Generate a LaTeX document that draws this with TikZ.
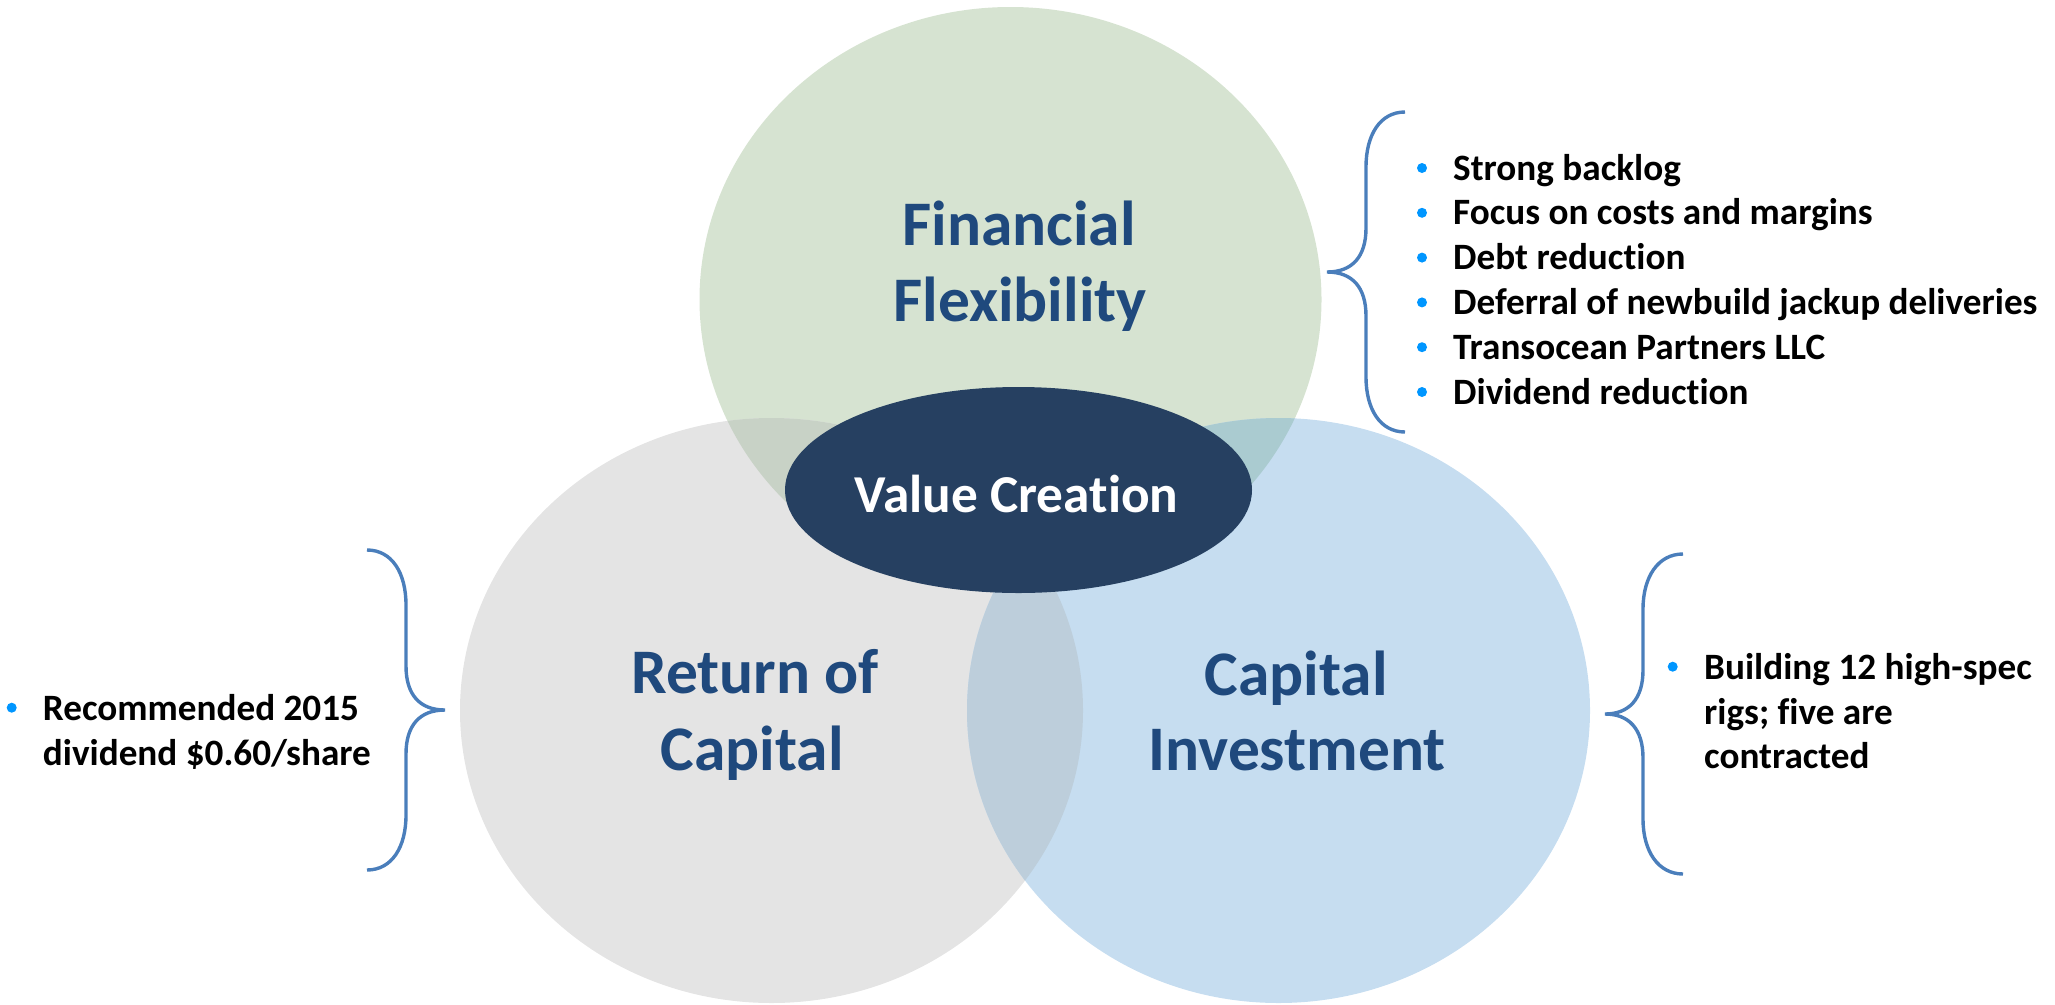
\documentclass[tikz,border=0pt]{standalone}
\usepackage{fontspec}
\setmainfont{Carlito}[RawFeature={-liga}]
\definecolor{cgreen}{HTML}{D6E3D1}
\definecolor{cgray}{HTML}{E4E4E4}
\definecolor{cblue}{HTML}{C6DDF0}
\definecolor{cgg}{HTML}{C8D2C6}
\definecolor{cgb}{HTML}{AACBD0}
\definecolor{cyb}{HTML}{BDCEDB}
\definecolor{cdark}{HTML}{264061}
\definecolor{ctitle}{HTML}{1F497D}
\definecolor{cbrace}{HTML}{4A7EBB}
\definecolor{cbullet}{HTML}{0096FF}
\tikzset{
  title/.style={font=\fontsize{63.5}{76}\selectfont\bfseries, text=ctitle, inner sep=0pt, anchor=base},
  vc/.style={font=\fontsize{53.3}{64}\selectfont\bfseries, text=white, inner sep=0pt, anchor=base},
  item/.style={font=\fontsize{37.2}{44}\selectfont\bfseries, text=black, inner sep=0pt, anchor=base west},
  dot/.style={circle, fill=cbullet, inner sep=0pt, minimum size=10pt},
  brace/.style={draw=cbrace, line width=3.4pt}
}
\begin{document}
\begin{tikzpicture}[x=1pt,y=-1pt]
\useasboundingbox (0,0) rectangle (2055,1004);
% Venn ellipses
\fill[cgreen] (1010.5,299.5) ellipse [x radius=311, y radius=292.5];
\fill[cgray] (771.5,710.5) ellipse [x radius=311.5, y radius=292.5];
\fill[cblue] (1278.5,710.5) ellipse [x radius=311.5, y radius=292.5];
\begin{scope}
  \clip (1010.5,299.5) ellipse [x radius=311, y radius=292.5];
  \fill[cgg] (771.5,710.5) ellipse [x radius=311.5, y radius=292.5];
  \fill[cgb] (1278.5,710.5) ellipse [x radius=311.5, y radius=292.5];
\end{scope}
\begin{scope}
  \clip (771.5,710.5) ellipse [x radius=311.5, y radius=292.5];
  \fill[cyb] (1278.5,710.5) ellipse [x radius=311.5, y radius=292.5];
\end{scope}
% centre ellipse
\fill[cdark] (1018.5,490) ellipse [x radius=233.5, y radius=103];
\node[vc] (vc) at (1016.7,512.7) {Value Creation};
% titles
\node[title] (ff1) at (1019,245) {Financial};
\node[title] (ff2) at (1020,321) {Flexibility};
\node[title] (rc1) at (755,693) {Return of};
\node[title] (rc2) at (752,770) {Capital};
\node[title] (ci1) at (1296,695) {Capital};
\node[title] (ci2) at (1297,770.7) {Investment};
% right top brace
\draw[brace] (1405,112) .. controls (1380,112) and (1366,135) .. (1366,167) -- (1366,228)
  .. controls (1366,257) and (1352,272) .. (1327,272)
  .. controls (1352,272) and (1366,287) .. (1366,316) -- (1366,377)
  .. controls (1366,409) and (1380,432) .. (1405,432);
% left brace
\draw[brace] (367,550) .. controls (392,550) and (406,573) .. (406,605) -- (406,666)
  .. controls (406,695) and (420,710) .. (445,710)
  .. controls (420,710) and (406,725) .. (406,754) -- (406,815)
  .. controls (406,847) and (392,870) .. (367,870);
% right bottom brace
\draw[brace] (1683,554) .. controls (1658,554) and (1643,577) .. (1643,609) -- (1643,670)
  .. controls (1643,699) and (1629,714) .. (1605,714)
  .. controls (1629,714) and (1643,729) .. (1643,758) -- (1643,819)
  .. controls (1643,851) and (1658,874) .. (1683,874);
% right top list
\node[dot] (b1) at (1422,168) {};
\node[item] (t1) at (1453,180) {Strong backlog};
\node[dot] (b2) at (1422,212.8) {};
\node[item] (t2) at (1453,224.8) {Focus on costs and margins};
\node[dot] (b3) at (1422,257.6) {};
\node[item] (t3) at (1453,269.6) {Debt reduction};
\node[dot] (b4) at (1422,302.4) {};
\node[item] (t4) at (1453,314.4) {Deferral of newbuild jackup deliveries};
\node[dot] (b5) at (1422,347.2) {};
\node[item] (t5) at (1453,359.2) {Transocean Partners LLC};
\node[dot] (b6) at (1422,392) {};
\node[item] (t6) at (1453,404) {Dividend reduction};
% left list
\node[dot] (l1) at (11.7,707.7) {};
\node[item] (lt1) at (42.7,720.7) {Recommended 2015};
\node[item] (lt2) at (42.7,765.2) {dividend \$0.60/share};
% right bottom list
\node[dot] (r1) at (1672.7,666.7) {};
\node[item] (rt1) at (1704,679.3) {Building 12 high-spec};
\node[item] (rt2) at (1704,724) {rigs; five are};
\node[item] (rt3) at (1704,768.7) {contracted};
\end{tikzpicture}
\end{document}
